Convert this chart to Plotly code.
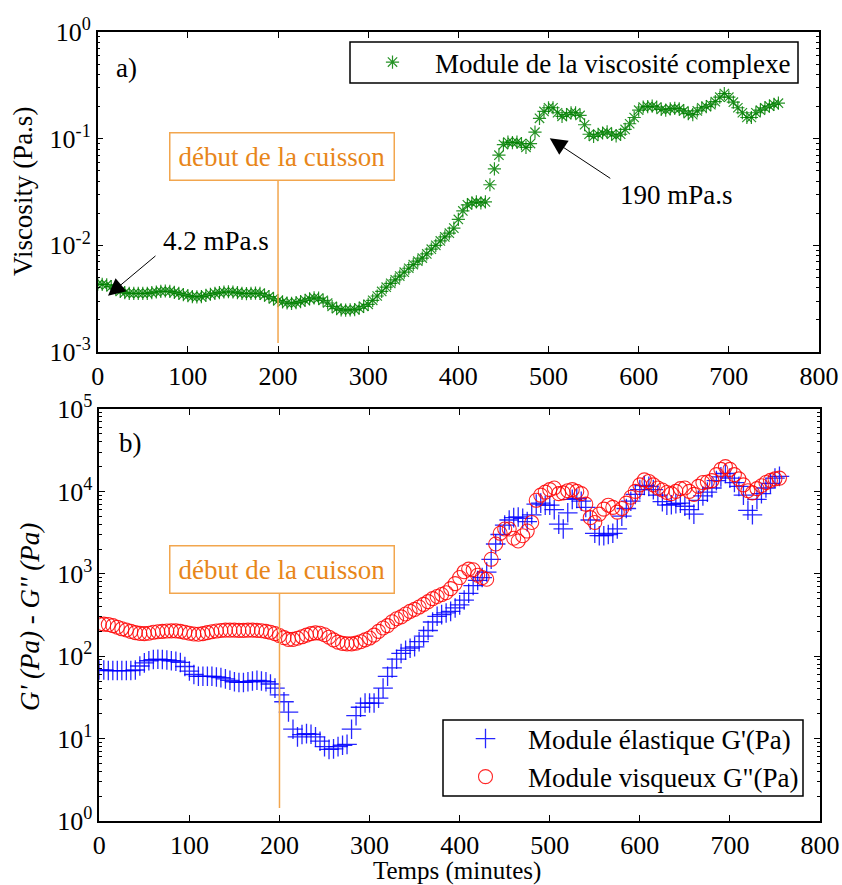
import plotly.graph_objects as go

# ---------------- data ----------------
time_min = list(range(0, 760, 5))

viscosity = [
    4.3e-3, 4.3e-3, 4.25e-3, 4.1e-3, 3.9e-3, 3.7e-3, 3.6e-3, 3.55e-3, 3.55e-3, 3.55e-3,
    3.55e-3, 3.55e-3, 3.6e-3, 3.65e-3, 3.7e-3, 3.73e-3, 3.7e-3, 3.62e-3, 3.55e-3, 3.45e-3,
    3.38e-3, 3.3e-3, 3.28e-3, 3.3e-3, 3.4e-3, 3.48e-3, 3.55e-3, 3.6e-3, 3.65e-3, 3.67e-3,
    3.65e-3, 3.6e-3, 3.55e-3, 3.53e-3, 3.55e-3, 3.57e-3, 3.55e-3, 3.42e-3, 3.3e-3, 3.15e-3,
    3.03e-3, 2.95e-3, 2.88e-3, 2.86e-3, 2.9e-3, 2.97e-3, 3.05e-3, 3.15e-3, 3.22e-3, 3.2e-3,
    3.05e-3, 2.88e-3, 2.68e-3, 2.55e-3, 2.48e-3, 2.47e-3, 2.48e-3, 2.5e-3, 2.57e-3, 2.68e-3,
    2.8e-3, 3.05e-3, 3.35e-3, 3.7e-3, 4.05e-3, 4.4e-3, 4.75e-3, 5.15e-3, 5.6e-3, 6.1e-3,
    6.6e-3, 7.1e-3, 7.6e-3, 8.3e-3, 9.2e-3, 1.0e-2, 1.1e-2, 1.2e-2, 1.3e-2, 1.45e-2,
    1.75e-2, 2.1e-2, 2.4e-2, 2.5e-2, 2.55e-2, 2.5e-2, 2.55e-2, 3.7e-2, 5.2e-2, 7.0e-2,
    8.8e-2, 9.3e-2, 9.2e-2, 9.3e-2, 9.0e-2, 8.3e-2, 9.0e-2, 1.15e-1, 1.55e-1, 1.8e-1,
    1.95e-1, 1.95e-1, 1.75e-1, 1.62e-1, 1.68e-1, 1.75e-1, 1.75e-1, 1.65e-1, 1.35e-1, 1.1e-1,
    1.05e-1, 1.1e-1, 1.13e-1, 1.16e-1, 1.1e-1, 1.06e-1, 1.1e-1, 1.22e-1, 1.38e-1, 1.58e-1,
    1.85e-1, 1.98e-1, 2.0e-1, 2.02e-1, 1.98e-1, 1.88e-1, 1.85e-1, 1.9e-1, 1.92e-1, 1.9e-1,
    1.82e-1, 1.72e-1, 1.68e-1, 1.82e-1, 1.95e-1, 2.0e-1, 2.08e-1, 2.22e-1, 2.45e-1, 2.65e-1,
    2.45e-1, 2.2e-1, 1.95e-1, 1.75e-1, 1.58e-1, 1.58e-1, 1.75e-1, 1.85e-1, 1.95e-1, 2.02e-1,
    2.1e-1, 2.15e-1,
]

g_visqueux = [
    245, 245, 242, 235, 225, 215, 208, 200, 193, 189,
    188, 190, 195, 198, 200, 202, 203, 203, 200, 195,
    190, 186, 185, 188, 193, 198, 202, 205, 207, 207,
    207, 206, 206, 207, 207, 206, 204, 200, 195, 188,
    178, 168, 160, 160, 165, 172, 180, 188, 192, 190,
    182, 170, 158, 148, 143, 141, 141, 144, 150, 158,
    166, 180, 200, 220, 235, 262, 285, 300, 325, 350,
    370, 395, 425, 460, 500, 530, 560, 590, 660, 760,
    900, 1060, 1140, 1120, 960, 900, 860, 1500, 2300, 3100,
    3500, 3500, 2700, 2500, 2900, 3300, 4200, 7800, 9000, 9800,
    10500, 11000, 9400, 9600, 10200, 10500, 10000, 9400, 7000, 4800,
    4200, 5300, 6100, 6800, 6400, 5600, 6200, 7200, 8500, 10000,
    12000, 13800, 13200, 12000, 11000, 10400, 9700, 9400, 10000, 10800,
    11000, 10000, 9200, 11500, 12800, 13000, 13500, 16000, 18500, 20000,
    18500, 16000, 14200, 12000, 10200, 9600, 10800, 11700, 12800, 13600,
    14200, 14500,
]

g_elastique = [
    68, 68, 67, 67, 67, 67, 67, 67, 68, 76,
    83, 88, 91, 92, 91, 90, 88, 87, 84, 75,
    66, 60, 57, 57, 57, 57, 56, 55, 53, 51,
    49, 48, 48, 49, 50, 51, 50, 49, 46, 41,
    34, 28, 21, 13, 10.5, 11.2, 11.5, 11.3, 10.5, 9.3,
    8, 7.4, 7.5, 8, 8.3, 8.5, 13, 19, 24, 27,
    27, 27, 31, 41, 57, 72, 92, 108, 118, 125,
    130, 150, 175, 205, 260, 305, 320, 335, 350, 385,
    420, 480, 580, 720, 830, 900, 1050, 1500, 2300, 3000,
    3900, 4500, 4800, 4900, 4700, 4300, 5200, 7000, 7200, 6800,
    6800, 6000, 4000, 3500, 5500, 8000, 8200, 7600, 6400, 4500,
    3100, 2900, 2900, 3000, 3100, 3500, 5000, 6200, 7600, 9200,
    10500, 11800, 11500, 10500, 9000, 7500, 6800, 6900, 7100, 7200,
    6600, 6000, 5300, 7800, 8800, 9800, 11000, 13500, 15000, 16500,
    14500, 12800, 11500, 9000, 5900, 5200, 8000, 9400, 11000, 12500,
    14500, 15200,
]

x_ticks = [0, 100, 200, 300, 400, 500, 600, 700, 800]
top_exps = [-3, -2, -1, 0]
bot_exps = [0, 1, 2, 3, 4, 5]
cure_start = 200

# ---------------- layout helpers ----------------
W, H = 842, 885
FONT = "Liberation Serif"
ORANGE = "#E8861A"
ORANGE_LINE = "#F2A64E"


def px(x):
    return x / W


def py(y):
    return 1 - y / H


def minor_vals(exps):
    return [m * 10 ** e for e in exps[:-1] for m in range(2, 10)]


fig = go.Figure()

fig.add_trace(go.Scatter(
    x=time_min, y=viscosity, mode="markers", name="Module de la viscosité complexe",
    marker=dict(symbol="asterisk-open", size=11, color="rgba(0,128,0,0.85)",
                line=dict(color="rgba(0,128,0,0.85)", width=1.2)),
    xaxis="x", yaxis="y", legend="legend",
))
fig.add_trace(go.Scatter(
    x=time_min, y=g_elastique, mode="markers", name="Module élastique G'(Pa)",
    marker=dict(symbol="cross-thin-open", size=14, color="rgba(0,0,255,0.85)",
                line=dict(color="rgba(0,0,255,0.85)", width=1.3)),
    xaxis="x2", yaxis="y2", legend="legend2",
))
fig.add_trace(go.Scatter(
    x=time_min, y=g_visqueux, mode="markers", name="Module visqueux G\"(Pa)",
    marker=dict(symbol="circle-open", size=14, color="rgba(255,0,0,0.85)",
                line=dict(color="rgba(255,0,0,0.85)", width=1.1)),
    xaxis="x2", yaxis="y2", legend="legend2",
))

axis_common = dict(
    showline=True, linecolor="black", linewidth=1.5, mirror="ticks",
    ticks="inside", tickcolor="black", showgrid=False, zeroline=False,
    automargin=False,
    tickfont=dict(family=FONT, size=26, color="black"),
)

fig.update_layout(
    width=W, height=H,
    margin=dict(l=0, r=0, t=0, b=0, autoexpand=False),
    paper_bgcolor="white", plot_bgcolor="white",
    font=dict(family=FONT, color="black", size=26),
    xaxis=dict(domain=[px(97.7), px(819)], range=[0, 800], tickvals=x_ticks,
               ticklen=6, anchor="y", **axis_common),
    yaxis=dict(domain=[py(352), py(32)], type="log", range=[-3, 0],
               tickvals=[10 ** e for e in top_exps],
               ticktext=["10<sup>%d</sup>" % e for e in top_exps],
               ticklen=6, anchor="x",
               minor=dict(tickvals=minor_vals(top_exps), ticks="inside", ticklen=3,
                          tickcolor="black", showgrid=False),
               **axis_common),
    xaxis2=dict(domain=[px(99.3), px(820)], range=[0, 800], tickvals=x_ticks,
                ticklen=6, anchor="y2", **axis_common),
    yaxis2=dict(domain=[py(821), py(409)], type="log", range=[0, 5],
                tickvals=[10 ** e for e in bot_exps],
                ticktext=["10<sup>%d</sup>" % e for e in bot_exps],
                ticklen=6, anchor="x2",
                minor=dict(tickvals=minor_vals(bot_exps), ticks="inside", ticklen=3,
                           tickcolor="black", showgrid=False),
                **axis_common),
    showlegend=True,
    legend=dict(x=px(350), y=py(62.5), xanchor="left", yanchor="middle",
                borderwidth=0, bgcolor="rgba(0,0,0,0)",
                font=dict(family=FONT, size=27), itemwidth=75),
    legend2=dict(x=px(443), y=py(758), xanchor="left", yanchor="middle",
                 borderwidth=0, bgcolor="rgba(0,0,0,0)",
                 font=dict(family=FONT, size=27), itemwidth=75, tracegroupgap=0),
)

# legend frames
fig.add_shape(type="rect", xref="paper", yref="paper", x0=px(350), x1=px(798),
              y0=py(83), y1=py(42), line=dict(color="black", width=1.5),
              fillcolor="rgba(0,0,0,0)")
fig.add_shape(type="rect", xref="paper", yref="paper", x0=px(443), x1=px(803),
              y0=py(796), y1=py(720), line=dict(color="black", width=1.5),
              fillcolor="rgba(0,0,0,0)")

annotations = [
    dict(text="a)", x=px(114), y=py(68), xanchor="left", yanchor="middle"),
    dict(text="b)", x=px(117), y=py(443), xanchor="left", yanchor="middle"),
    dict(text="Viscosity (Pa.s)", x=px(23), y=py(192), textangle=-90,
         xanchor="center", yanchor="middle"),
    dict(text="<i>G' (Pa) - G'' (Pa)</i>", x=px(30), y=py(617), textangle=-90,
         xanchor="center", yanchor="middle"),
    dict(text="Temps (minutes)", x=px(457), y=py(870.5), xanchor="center", yanchor="middle",
         font=dict(family=FONT, size=25, color="black")),
    dict(text="4.2 mPa.s", x=px(216), y=py(241), xanchor="center", yanchor="middle"),
    dict(text="190 mPa.s", x=px(676), y=py(195), xanchor="center", yanchor="middle"),
    dict(text="début de la cuisson", x=px(281.5), y=py(156.5), xanchor="center",
         yanchor="middle", font=dict(family=FONT, size=27, color=ORANGE),
         bordercolor=ORANGE_LINE, borderwidth=1.5, borderpad=8, bgcolor="white"),
    dict(text="début de la cuisson", x=px(281.5), y=py(569), xanchor="center",
         yanchor="middle", font=dict(family=FONT, size=27, color=ORANGE),
         bordercolor=ORANGE_LINE, borderwidth=1.5, borderpad=8, bgcolor="white"),
]
for a in annotations:
    a.setdefault("xref", "paper")
    a.setdefault("yref", "paper")
    a.setdefault("showarrow", False)
    a.setdefault("font", dict(family=FONT, size=27, color="black"))
    fig.add_annotation(**a)

# arrows (head in data coordinates, log10 for y on log axes)
fig.add_annotation(x=11.4, y=-2.472, xref="x", yref="y", text="", showarrow=True,
                   ax=49, ay=-41, arrowhead=2, arrowsize=3.4, arrowwidth=1,
                   arrowcolor="black")
fig.add_annotation(x=501.4, y=-0.997, xref="x", yref="y", text="", showarrow=True,
                   ax=62, ay=41, arrowhead=2, arrowsize=3.4, arrowwidth=1,
                   arrowcolor="black")

# cure start vertical lines
fig.add_shape(type="line", xref="x", yref="paper", x0=cure_start, x1=cure_start,
              y0=py(343), y1=py(179), line=dict(color=ORANGE_LINE, width=1.5))
fig.add_shape(type="line", xref="x2", yref="paper", x0=cure_start, x1=cure_start,
              y0=py(808), y1=py(592), line=dict(color=ORANGE_LINE, width=1.5))

fig.write_html(
    "out.html",
    config={"displayModeBar": False},
    post_script="document.body.style.margin='0';document.body.style.padding='0';",
)
